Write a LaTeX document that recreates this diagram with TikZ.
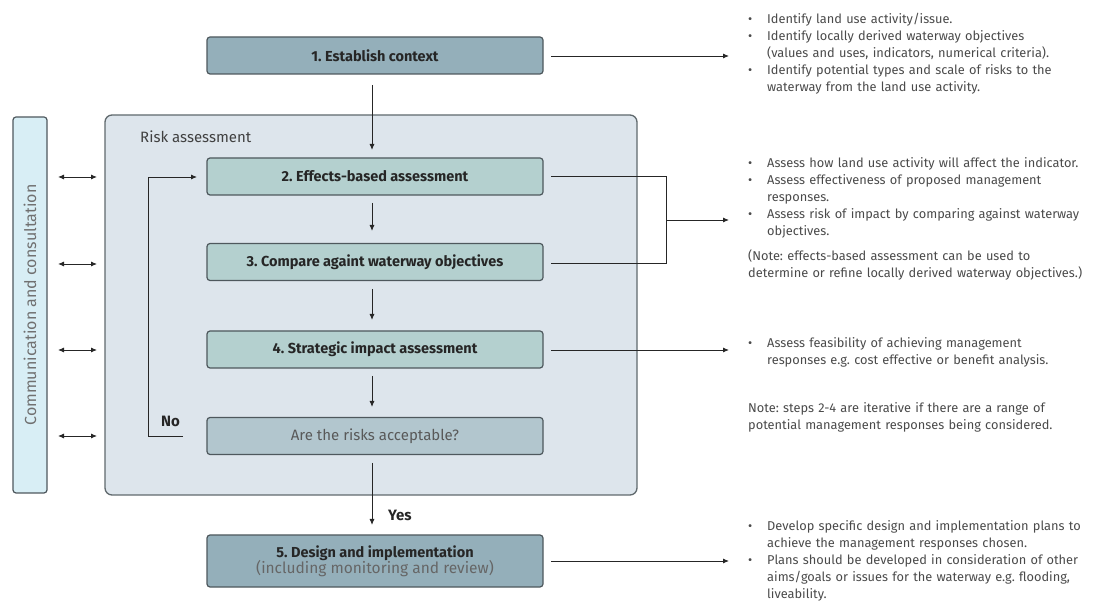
\documentclass[tikz,border=0pt]{standalone}
\usepackage{fontspec}
\setmainfont{Fira Sans}
\usetikzlibrary{arrows.meta}
\frenchspacing
\definecolor{darkbox}{HTML}{94AFBA}
\definecolor{greenbox}{HTML}{B4D0CF}
\definecolor{riskbox}{HTML}{B2C6CE}
\definecolor{bigfill}{HTML}{DDE5EC}
\definecolor{commfill}{HTML}{D8EEF5}
\definecolor{edge}{HTML}{4E585D}
\definecolor{txtgray}{HTML}{4A4A4A}
\definecolor{lightgray}{HTML}{707070}
\newcommand{\bitem}[1]{\hangindent=19pt\hangafter=1\noindent\makebox[19pt][l]{\textbullet}#1\par}
\newcommand{\nohy}{\frenchspacing\hyphenpenalty=10000\relax\exhyphenpenalty=10000\relax}
\begin{document}
\begin{tikzpicture}[x=1pt,y=-1pt,
  stepbox/.style={draw=edge, line width=1.2pt, rounded corners=3pt, minimum width=336pt, inner sep=0pt, font=\fontsize{14.5}{16}\selectfont\bfseries, text=black!85},
  conn/.style={line width=0.9pt, draw=black!85},
  arr/.style={conn, -{Latex[length=6pt,width=5pt]}},
  darr/.style={conn, {Latex[length=6pt,width=5pt]}-{Latex[length=6pt,width=5pt]}},
  notes/.style={anchor=north west, inner sep=0pt, text width=420pt, align=left, text=txtgray, font=\fontsize{12.8}{17}\selectfont},
  lbl/.style={font=\fontsize{15}{16}\selectfont\bfseries, text=black!85, inner sep=0pt}
]
\useasboundingbox (0,0) rectangle (1096,601);
% big box and comm box
\node[draw=edge!90, line width=1.3pt, fill=bigfill, rounded corners=7pt, minimum width=532pt, minimum height=380pt, inner sep=0pt] (risk) at (371,305) {};
\node[anchor=west, inner sep=0pt, font=\fontsize{15}{16}\selectfont, text=black!75] (risklbl) at (140,137) {Risk assessment};
\node[draw=edge, line width=1.2pt, fill=commfill, rounded corners=3pt, minimum width=34pt, minimum height=376pt, inner sep=0pt] (comm) at (30,305) {};
\node[rotate=90, inner sep=0pt, font=\fontsize{16}{17}\selectfont, text=lightgray] (commlbl) at (30,305) {Communication and consultation};
% step boxes
\node[stepbox, fill=darkbox, minimum height=37pt] (s1) at (375,55.5) {1. Establish context};
\node[stepbox, fill=greenbox, minimum height=37pt] (s2) at (375,176.5) {2. Effects-based assessment};
\node[stepbox, fill=greenbox, minimum height=37pt] (s3) at (375,262) {3. Compare againt waterway objectives};
\node[stepbox, fill=greenbox, minimum height=37pt] (s4) at (375,349.5) {4. Strategic impact assessment};
\node[stepbox, fill=riskbox, minimum height=37pt, font=\fontsize{15}{16}\selectfont, text=black!65] (s5) at (375,436) {Are the risks acceptable?};
\node[stepbox, fill=darkbox, minimum height=52pt, align=center] (s6) at (375,561) {5. Design and implementation\\[-1pt]{\mdseries\fontsize{15.5}{17}\selectfont\color{black!60}(including monitoring and review)}};
% vertical arrows
\coordinate (a1s) at (372,85); \coordinate (a1e) at (372,150);
\draw[arr] (a1s) -- (a1e);
\coordinate (a2s) at (372,203); \coordinate (a2e) at (372,231);
\draw[arr] (a2s) -- (a2e);
\coordinate (a3s) at (372,289); \coordinate (a3e) at (372,320);
\draw[arr] (a3s) -- (a3e);
\coordinate (a4s) at (372,376); \coordinate (a4e) at (372,407);
\draw[arr] (a4s) -- (a4e);
\coordinate (a5s) at (372,463); \coordinate (a5e) at (372,525);
\draw[arr] (a5s) -- (a5e);
\node[lbl, anchor=west] (yes) at (388,515) {Yes};
% feedback
\coordinate (fb1) at (183,436); \coordinate (fb2) at (148,436); \coordinate (fb3) at (148,177); \coordinate (fb4) at (197,177);
\draw[arr] (fb1) -- (fb2) -- (fb3) -- (fb4);
\node[lbl, anchor=west] (no) at (161,421) {No};
% double arrows
\foreach \y/\n in {177/d1,264/d2,350/d3,436/d4}{
  \coordinate (\n a) at (58,\y); \coordinate (\n b) at (97,\y);
  \draw[darr] (\n a) -- (\n b);
}
% right arrows
\coordinate (r1s) at (551,56); \coordinate (r1e) at (729,56);
\draw[arr] (r1s) -- (r1e);
\coordinate (b2) at (551,176); \coordinate (b2r) at (666,176); \coordinate (b3) at (551,263); \coordinate (b3r) at (666,263);
\coordinate (bm) at (666,220); \coordinate (bme) at (729,220);
\draw[conn] (b2) -- (b2r) -- (b3r) -- (b3);
\draw[arr] (bm) -- (bme);
\coordinate (r4s) at (551,350); \coordinate (r4e) at (729,350);
\draw[arr] (r4s) -- (r4e);
\coordinate (r6s) at (551,561); \coordinate (r6e) at (729,561);
\draw[arr] (r6s) -- (r6e);
% notes
\node[notes] (n1) at (748,13) {\nohy
\bitem{Identify land use activity/issue.}
\bitem{Identify locally derived waterway objectives\newline (values and uses, indicators, numerical criteria).}
\bitem{Identify potential types and scale of risks to the\newline waterway from the land use activity.}};
\node[notes] (n2) at (748,157) {\nohy
\bitem{Assess how land use activity will affect the indicator.}
\bitem{Assess effectiveness of proposed management\newline responses.}
\bitem{Assess risk of impact by comparing against waterway\newline objectives.}
\vspace{8pt}\noindent (Note: effects-based assessment can be used to\newline determine or refine locally derived waterway objectives.)\par};
\node[notes] (n3) at (748,337) {\nohy
\bitem{Assess feasibility of achieving management\newline responses e.g. cost effective or benefit analysis.}};
\node[notes] (n4) at (748,402) {\nohy
\noindent Note: steps 2-4 are iterative if there are a range of\newline potential management responses being considered.\par};
\node[notes] (n5) at (748,520) {\nohy
\bitem{Develop specific design and implementation plans to\newline achieve the management responses chosen.}
\bitem{Plans should be developed in consideration of other\newline aims/goals or issues for the waterway e.g. flooding,\newline liveability.}};
\end{tikzpicture}
\end{document}
